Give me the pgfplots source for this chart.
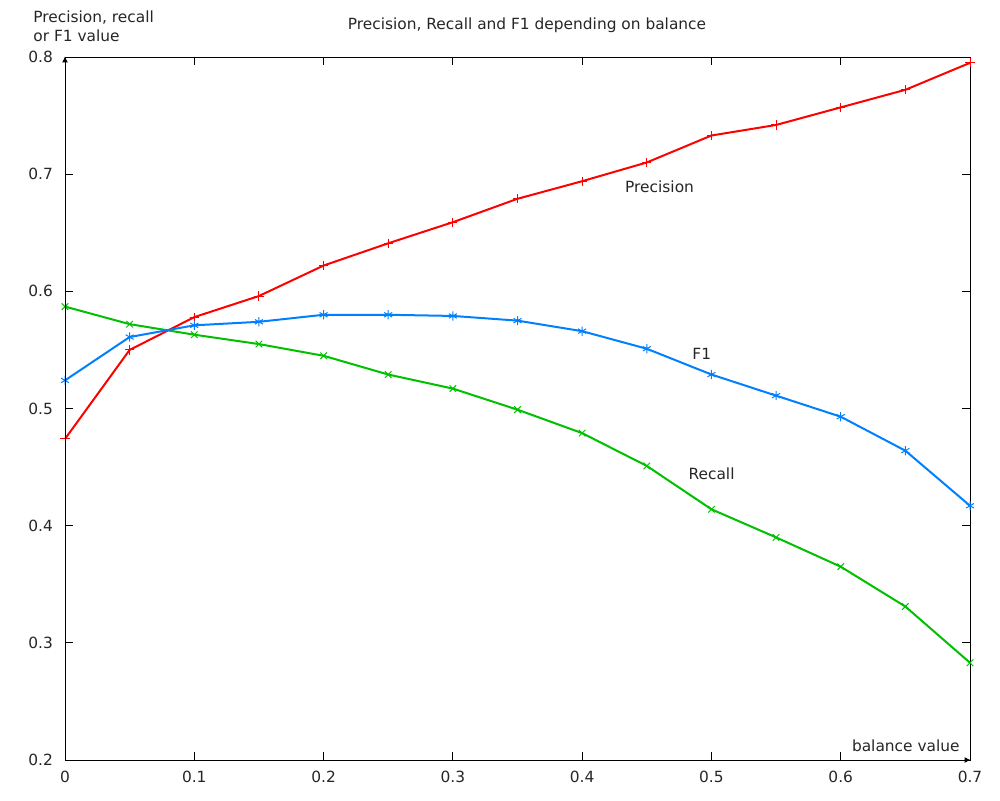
\documentclass[border=0pt]{standalone}
\usepackage{fontspec}
\setmainfont{DejaVu Sans}
\usepackage{pgfplots}
\pgfplotsset{compat=1.18}
\usetikzlibrary{arrows.meta}
\definecolor{gpred}{RGB}{255,0,0}
\definecolor{gpgreen}{RGB}{0,192,0}
\definecolor{gpblue}{RGB}{0,128,255}
\pgfplotstableread{
x     p      r      f
0.00  0.474  0.587  0.524
0.05  0.550  0.572  0.561
0.10  0.578  0.563  0.571
0.15  0.596  0.555  0.574
0.20  0.622  0.545  0.580
0.25  0.641  0.529  0.580
0.30  0.659  0.517  0.579
0.35  0.679  0.499  0.575
0.40  0.694  0.479  0.566
0.45  0.710  0.451  0.551
0.50  0.733  0.414  0.529
0.55  0.742  0.390  0.511
0.60  0.757  0.365  0.493
0.65  0.772  0.331  0.464
0.70  0.795  0.283  0.417
}\datatable
\begin{document}
\begin{tikzpicture}[font=\fontsize{7.7}{9}\selectfont]
\path[use as bounding box] (0,0) rectangle (500pt,400pt);
\begin{axis}[
  at={(32.5pt,20pt)}, anchor=south west,
  scale only axis, width=452.5pt, height=351.5pt,
  xmin=0, xmax=0.7, ymin=0.2, ymax=0.8,
  xtick={0,0.1,...,0.7}, ytick={0.2,0.3,...,0.8},
  xticklabels={0,0.1,0.2,0.3,0.4,0.5,0.6,0.7},
  yticklabels={0.2,0.3,0.4,0.5,0.6,0.7,0.8},
  tick align=inside, tick pos=both, major tick length=4pt,
  axis line style={line width=0.5pt, black},
  every tick/.style={black, line width=0.5pt},
  /pgf/number format/assume math mode=true,
  ticklabel style={font=\fontsize{7.7}{9}\selectfont, text=black!85},
  yticklabel style={xshift=-2.5pt},
  xticklabel style={yshift=-2pt},
  clip=false,
]
\addplot[gpred, line width=1pt, mark=+, mark size=2.3pt, mark options={line width=0.5pt}] table[x=x,y=p]{\datatable};
\addplot[gpgreen, line width=1pt, mark=x, mark size=2.3pt, mark options={line width=0.5pt}] table[x=x,y=r]{\datatable};
\addplot[gpblue, line width=1pt, mark=asterisk, mark size=2.3pt, mark options={line width=0.5pt}] table[x=x,y=f]{\datatable};
\node[anchor=west, inner sep=0pt, text=black!85] at (axis cs:0.433,0.689) {Precision};
\node[anchor=west, inner sep=0pt, text=black!85] at (axis cs:0.485,0.547) {F1};
\node[anchor=west, inner sep=0pt, text=black!85] at (axis cs:0.482,0.444) {Recall};
\end{axis}
\draw[-{Latex[length=3pt,width=3pt]}, line width=0.5pt] (32.5pt,20pt) -- (32.5pt,371.8pt);
\draw[-{Latex[length=3pt,width=3pt]}, line width=0.5pt] (32.5pt,20pt) -- (485.3pt,20pt);
\node[anchor=base, inner sep=0pt, text=black!85] at (263.5pt,385pt) {Precision, Recall and F1 depending on balance};
\node[anchor=base west, inner sep=0pt, text=black!85] at (16.5pt,388.5pt) {Precision, recall};
\node[anchor=base west, inner sep=0pt, text=black!85] at (16.5pt,379pt) {or F1 value};
\node[anchor=base east, inner sep=0pt, text=black!85] at (480pt,24.5pt) {balance value};
\end{tikzpicture}
\end{document}
